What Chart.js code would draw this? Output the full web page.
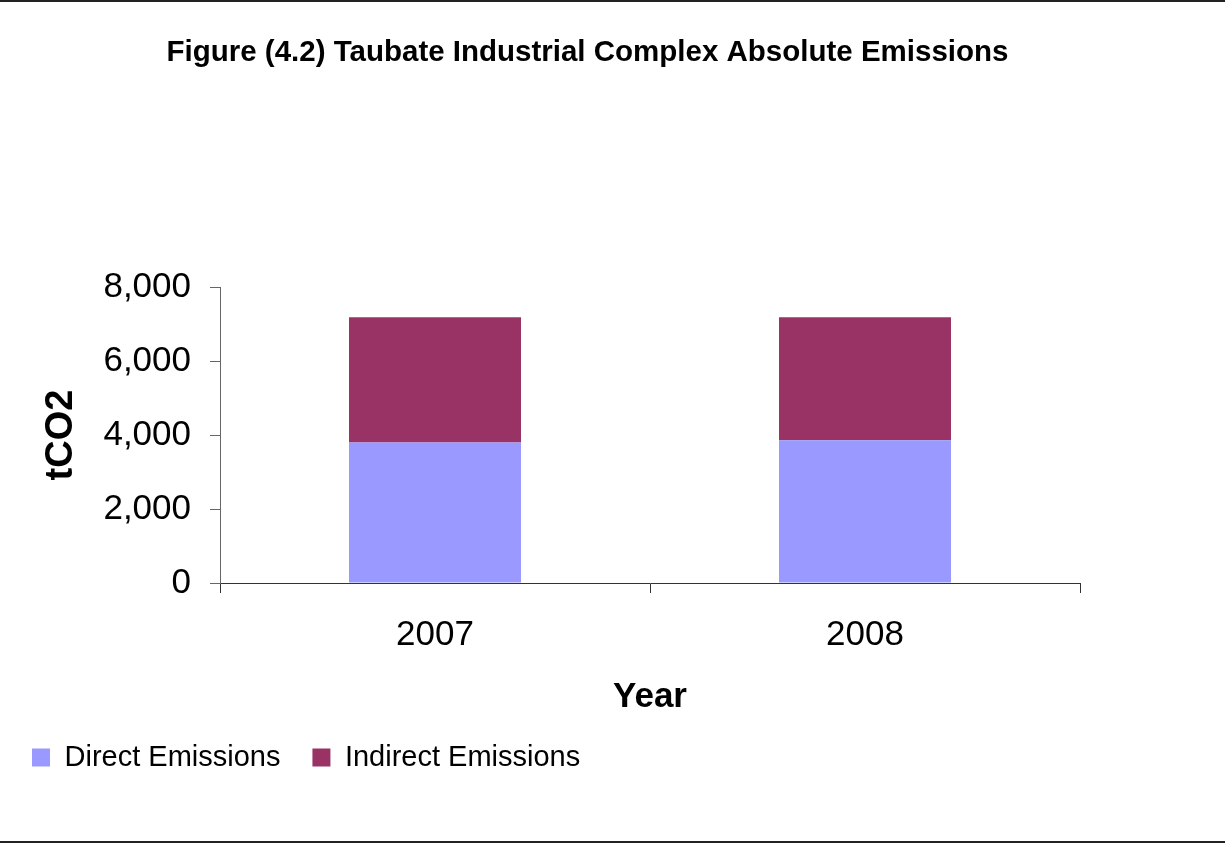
<!DOCTYPE html>
<html>
<head>
<meta charset="utf-8">
<script src="https://cdn.jsdelivr.net/npm/chart.js@4.4.1/dist/chart.umd.min.js"></script>
<style>
    body { margin: 0; background: #fff; }
    #wrap { position: relative; width: 1225px; height: 844px; }
    #wrap canvas { position: absolute; left: 0; top: 0; }
    .rule { position: absolute; left: 0; width: 1225px; height: 2px; background: #222; }
</style>
</head>
<body>
<div id="wrap">
    <canvas id="emissionsChart" width="1225" height="844"></canvas>
    <div class="rule" style="top:0"></div>
    <div class="rule" style="top:841px"></div>
</div>
<script>
// ============================================
// DATA
// ============================================
const years = ['2007', '2008'];
const directEmissions = [3800, 3860];
const indirectEmissions = [3380, 3320];
const yTicks = [0, 2000, 4000, 6000, 8000];

const FONT = "'Liberation Sans', Arial, sans-serif";

// ============================================
// STACKED BAR CHART
// ============================================
const ctx = document.getElementById('emissionsChart');
new Chart(ctx, {
    type: 'bar',
    data: {
        labels: years,
        datasets: [
            {
                label: 'Direct Emissions',
                data: directEmissions,
                backgroundColor: '#9999FF',
                barPercentage: 1,
                categoryPercentage: 0.4
            },
            {
                label: 'Indirect Emissions',
                data: indirectEmissions,
                backgroundColor: '#993366',
                barPercentage: 1,
                categoryPercentage: 0.4
            }
        ]
    },
    options: {
        responsive: false,
        animation: false,
        layout: {
            padding: { left: 0, right: 50, top: 0, bottom: 62 }
        },
        plugins: {
            title: {
                display: true,
                text: 'Figure (4.2) Taubate Industrial Complex Absolute Emissions',
                color: '#000',
                font: { family: FONT, size: 29.5, weight: 'bold', lineHeight: 1.2 },
                padding: { top: 35, bottom: 216.6 }
            },
            legend: {
                position: 'bottom',
                align: 'start',
                labels: {
                    color: '#000',
                    font: { family: FONT, size: 29 },
                    boxWidth: 18,
                    boxHeight: 18,
                    padding: 32
                }
            },
            tooltip: { enabled: false }
        },
        scales: {
            x: {
                stacked: true,
                afterFit: (scale) => { scale.height = 128; },
                grid: {
                    offset: true,
                    drawOnChartArea: false,
                    drawTicks: true,
                    tickLength: 10,
                    color: '#333'
                },
                border: { display: true, color: '#333', width: 1 },
                ticks: {
                    color: '#000',
                    padding: 21,
                    font: { family: FONT, size: 35 }
                },
                title: {
                    display: true,
                    text: 'Year',
                    color: '#000',
                    font: { family: FONT, size: 35, weight: 'bold', lineHeight: 1 },
                    padding: { top: 0, bottom: -4 }
                }
            },
            y: {
                stacked: true,
                min: 0,
                max: 8000,
                afterFit: (scale) => { scale.width = 220; },
                afterBuildTicks: (scale) => {
                    scale.ticks = yTicks.map(v => ({ value: v }));
                },
                grid: {
                    drawOnChartArea: false,
                    drawTicks: true,
                    tickLength: 10,
                    color: '#666'
                },
                border: { display: true, color: '#666', width: 1 },
                ticks: {
                    color: '#000',
                    padding: 19,
                    font: { family: FONT, size: 35 },
                    callback: (value) => value.toLocaleString('en-US')
                },
                title: {
                    display: true,
                    text: 'tCO2',
                    color: '#000',
                    font: { family: FONT, size: 38, weight: 'bold', lineHeight: 1.2 },
                    padding: { top: 39, bottom: 0 }
                }
            },
            // empty spacer on the right so the plot ends where the original does
            spacer: {
                type: 'linear',
                position: 'right',
                display: true,
                afterFit: (scale) => { scale.width = 95; },
                grid: { display: false, drawTicks: false },
                border: { display: false },
                ticks: { display: false },
                title: { display: false }
            }
        }
    }
});
</script>
</body>
</html>
